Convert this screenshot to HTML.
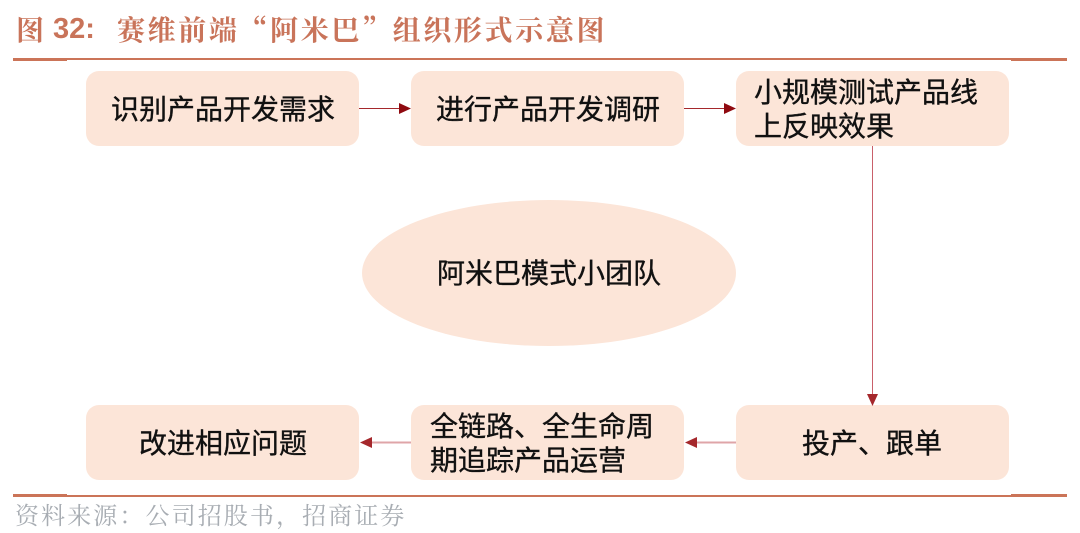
<!DOCTYPE html>
<html lang="zh">
<head>
<meta charset="utf-8">
<style>
html,body{margin:0;padding:0;background:#fff;}
#c{position:relative;width:1080px;height:533px;overflow:hidden;background:#fff;font-family:"Liberation Sans","Noto Sans CJK SC",sans-serif;}
.t{position:absolute;white-space:nowrap;line-height:1;}
.b{position:absolute;background:#fce5d8;border-radius:13px;width:273px;height:75px;}
.n{font-size:28px;color:#111;-webkit-text-stroke:0.35px #111;}
.h{font-family:"Noto Serif CJK SC",serif;font-weight:700;font-size:28px;color:#c9745a;letter-spacing:2.63px;}
.s{font-family:"Noto Serif CJK SC",serif;font-size:24px;color:#a8adb3;letter-spacing:2.1px;}
svg{position:absolute;left:0;top:0;}
</style>
</head>
<body>
<div id="c">
<div class="b" style="left:86px;top:71px"></div>
<div class="b" style="left:411px;top:71px"></div>
<div class="b" style="left:736px;top:71px"></div>
<div class="b" style="left:86px;top:405px"></div>
<div class="b" style="left:411px;top:405px"></div>
<div class="b" style="left:736px;top:405px"></div>
<svg width="1080" height="533" viewBox="0 0 1080 533">
<ellipse cx="549" cy="273" rx="187" ry="73" fill="#fce5d8"/>
<rect x="13" y="58" width="1054" height="2" fill="#cb7458"/>
<rect x="13" y="58" width="54" height="3" fill="#cb7458"/>
<rect x="1011" y="58" width="56" height="3" fill="#cb7458"/>
<rect x="13" y="495" width="1054" height="2" fill="#cb7458"/>
<rect x="13" y="494" width="54" height="3" fill="#cb7458"/>
<rect x="1011" y="494" width="56" height="3" fill="#cb7458"/>
<line x1="359" y1="108.5" x2="400" y2="108.5" stroke="#a5282c" stroke-width="1"/>
<polygon points="399,103 411,108.5 399,114" fill="#8f0a10"/>
<line x1="684" y1="108.5" x2="725" y2="108.5" stroke="#a5282c" stroke-width="1"/>
<polygon points="724,103 736,108.5 724,114" fill="#8f0a10"/>
<line x1="872.5" y1="146" x2="872.5" y2="394" stroke="#c9606a" stroke-width="1"/>
<polygon points="867,394 878,394 872.5,406" fill="#a5282c"/>
<line x1="696" y1="442.5" x2="736" y2="442.5" stroke="#dfa5a8" stroke-width="2"/>
<polygon points="697,437 697,448 685,442.5" fill="#a5282c"/>
<line x1="371" y1="442.5" x2="411" y2="442.5" stroke="#dfa5a8" stroke-width="2"/>
<polygon points="372,437 372,448 360,442.5" fill="#a5282c"/>
</svg>
<div class="t h" style="left:16px;top:15px">图</div>
<div class="t h" style="left:53px;top:15px;font-family:'Liberation Sans',sans-serif;font-size:29px;letter-spacing:0;">32:</div>
<div class="t h" style="left:117px;top:15px">赛维前端“阿米巴”组织形式示意图</div>
<div class="t n" style="left:111px;top:96px">识别产品开发需求</div>
<div class="t n" style="left:436px;top:96px">进行产品开发调研</div>
<div class="t n" style="left:754px;top:79px">小规模测试产品线</div>
<div class="t n" style="left:754px;top:113px">上反映效果</div>
<div class="t n" style="left:437px;top:260px">阿米巴模式小团队</div>
<div class="t n" style="left:139px;top:430px">改进相应问题</div>
<div class="t n" style="left:430px;top:413px">全链路、全生命周</div>
<div class="t n" style="left:430px;top:447px">期追踪产品运营</div>
<div class="t n" style="left:802px;top:430px">投产、跟单</div>
<div class="t s" style="left:15px;top:502px">资料来源&#xFF1A;公司招股书&#xFF0C;招商证券</div>
</div>
</body>
</html>
